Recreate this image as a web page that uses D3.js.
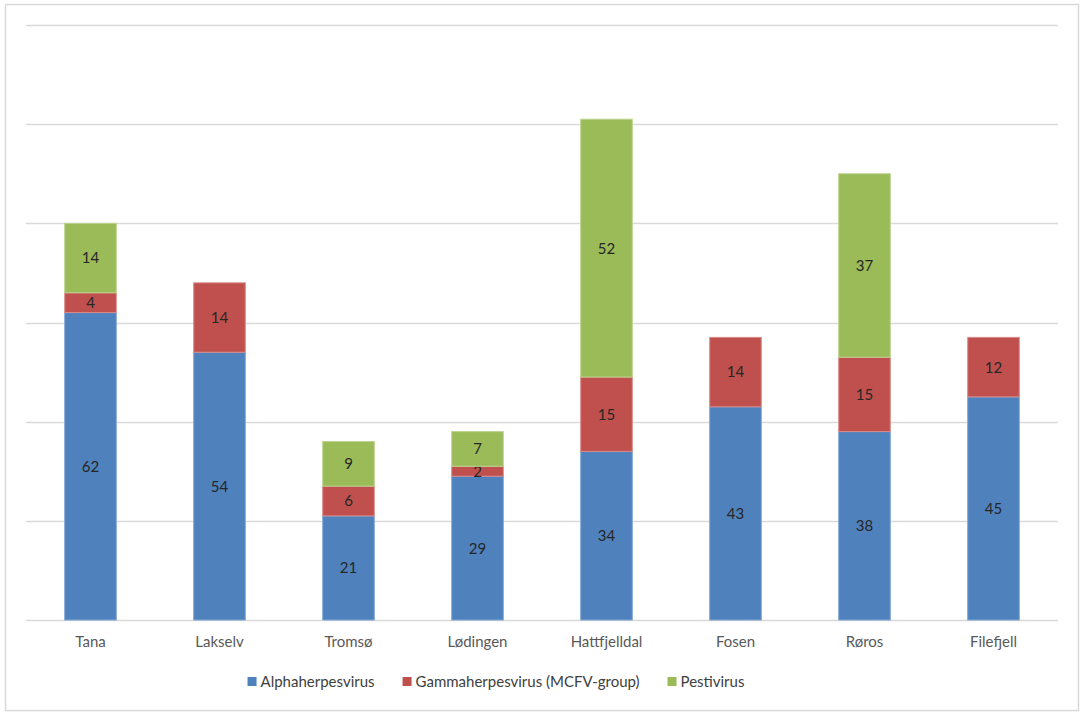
<!DOCTYPE html>
<html>
<head>
<meta charset="utf-8">
<script src="https://cdn.jsdelivr.net/npm/d3@7"></script>
<style>
  body { margin: 0; background: #fff; }
  text { font-family: Lato, "Open Sans", sans-serif; }
</style>
</head>
<body>
<script>
// data
var regions = ["Tana", "Lakselv", "Tromsø", "Lødingen", "Hattfjelldal", "Fosen", "Røros", "Filefjell"];
var alphaherpes = [62, 54, 21, 29, 34, 43, 38, 45];
var gammaherpes = [4, 14, 6, 2, 15, 14, 15, 12];
var pestivirus = [14, 0, 9, 7, 52, 0, 37, 0];
var seriesNames = ["Alphaherpesvirus", "Gammaherpesvirus (MCFV-group)", "Pestivirus"];
var yTicks = [0, 20, 40, 60, 80, 100, 120];

var colors = ["#4f81bd", "#c0504d", "#9bbb59"];
var strokes = ["#7fa6d6", "#d98b89", "#bcd48e"];

var svgWidth = 1084, svgHeight = 714;
var margin = { top: 25, right: 26, bottom: 94, left: 26 };
var width = svgWidth - margin.left - margin.right;
var height = svgHeight - margin.top - margin.bottom;

var svg = d3.select("body").append("svg")
    .attr("width", svgWidth)
    .attr("height", svgHeight);

// chart frame
svg.append("rect")
    .attr("x", 5.5).attr("y", 4.5)
    .attr("width", 1073).attr("height", 706)
    .attr("fill", "#fff")
    .attr("stroke", "#d9d9d9")
    .attr("stroke-width", 1.5);

var chartGroup = svg.append("g")
    .attr("transform", `translate(${margin.left}, ${margin.top})`);

var table = regions.map(function (r, i) {
    return { region: r, a: alphaherpes[i], g: gammaherpes[i], p: pestivirus[i] };
});
var stacked = d3.stack().keys(["a", "g", "p"])(table);

var xScale = d3.scaleBand()
    .domain(regions)
    .range([0, width])
    .paddingInner(0.6)
    .paddingOuter(0.3);

var yScale = d3.scaleLinear()
    .domain([0, 120])
    .range([height, 0]);

// gridlines
chartGroup.append("g")
    .selectAll("line")
    .data(yTicks)
    .enter()
    .append("line")
    .attr("x1", 0).attr("x2", width)
    .attr("y1", d => Math.round(yScale(d)) + 0.5)
    .attr("y2", d => Math.round(yScale(d)) + 0.5)
    .attr("stroke", "#d9d9d9")
    .attr("stroke-width", 1.3);

// bars
var layers = chartGroup.selectAll(".layer")
    .data(stacked)
    .enter()
    .append("g")
    .attr("class", "layer");

layers.each(function (layer, li) {
    var g = d3.select(this);
    var segs = layer.filter(d => d[1] - d[0] > 0);

    g.selectAll("rect")
        .data(segs)
        .enter()
        .append("rect")
        .attr("x", d => xScale(d.data.region))
        .attr("y", d => yScale(d[1]))
        .attr("width", xScale.bandwidth())
        .attr("height", d => yScale(d[0]) - yScale(d[1]))
        .attr("fill", colors[li])
        .attr("stroke", strokes[li])
        .attr("stroke-width", 1);

    g.selectAll("text")
        .data(segs)
        .enter()
        .append("text")
        .attr("x", d => xScale(d.data.region) + xScale.bandwidth() / 2)
        .attr("y", d => (yScale(d[0]) + yScale(d[1])) / 2)
        .attr("dy", "0.36em")
        .attr("text-anchor", "middle")
        .attr("font-size", "15px")
        .attr("fill", "#262626")
        .text(d => d[1] - d[0]);
});

// category axis
var xAxis = d3.axisBottom(xScale).tickSize(0).tickPadding(16);
var xg = chartGroup.append("g")
    .attr("transform", `translate(0, ${height})`)
    .call(xAxis);
xg.select(".domain").remove();
xg.selectAll("text")
    .attr("font-size", "15px")
    .attr("fill", "#595959")
    .style("font-family", 'Lato, "Open Sans", sans-serif');

// legend, laid out from measured text widths and centred
var legend = svg.append("g");
var items = seriesNames.map(function (name, i) {
    var g = legend.append("g");
    g.append("rect")
        .attr("x", 0).attr("y", -4.5)
        .attr("width", 9).attr("height", 9)
        .attr("fill", colors[i]);
    var t = g.append("text")
        .attr("x", 13).attr("y", 0)
        .attr("dy", "0.36em")
        .attr("font-size", "15px")
        .attr("fill", "#404040")
        .text(name);
    return { g: g, w: 13 + t.node().getComputedTextLength() };
});
var gap = 28;
var total = d3.sum(items, d => d.w) + gap * (items.length - 1);
var lx = 496 - total / 2;
items.forEach(function (it) {
    it.g.attr("transform", `translate(${lx}, 681.5)`);
    lx += it.w + gap;
});
</script>
</body>
</html>
